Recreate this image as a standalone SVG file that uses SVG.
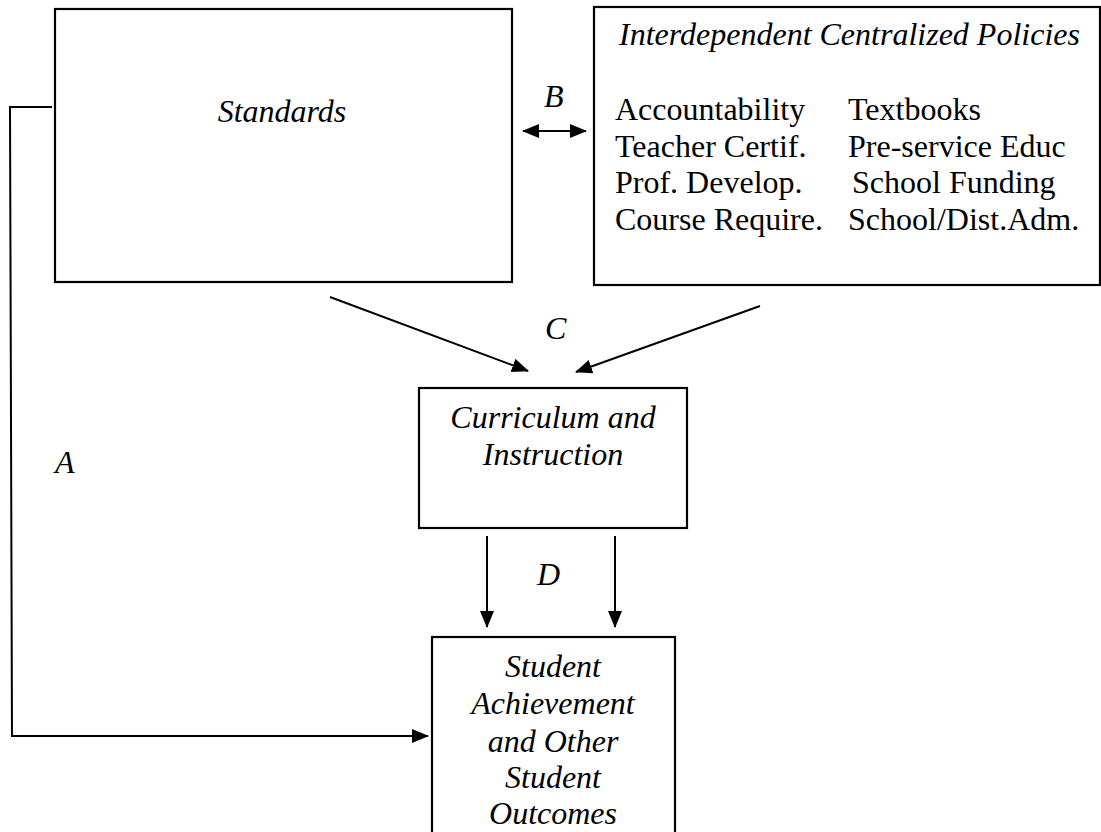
<svg xmlns="http://www.w3.org/2000/svg" width="1101" height="832" viewBox="0 0 1101 832">
<style>
.box{fill:#fff;stroke:#000;stroke-width:2.2}
.ln{fill:none;stroke:#000;stroke-width:2}
.t{font-family:"Liberation Serif","Times New Roman",serif;font-size:32px;fill:#000}
.i{font-style:italic}
.c{text-anchor:middle}
</style>
<defs>
<marker id="ah" markerUnits="userSpaceOnUse" markerWidth="18" markerHeight="14" refX="16" refY="7" orient="auto-start-reverse" viewBox="0 0 18 14">
<path d="M0,0 L17,7 L0,14 z" fill="#000"/>
</marker>
</defs>
<rect width="1101" height="832" fill="#fff"/>
<g id="standards">
<rect class="box" x="55" y="9" width="457" height="273"/>
<text class="t i c" x="282" y="122">Standards</text>
</g>
<g id="policies">
<rect class="box" x="594" y="7" width="506" height="278"/>
<text class="t i" x="619" y="45">Interdependent Centralized Policies</text>
<text class="t" x="615" y="120">Accountability</text>
<text class="t" x="848" y="120">Textbooks</text>
<text class="t" x="615" y="157">Teacher Certif.</text>
<text class="t" x="848" y="157">Pre-service Educ</text>
<text class="t" x="615" y="193">Prof. Develop.</text>
<text class="t" x="852" y="193">School Funding</text>
<text class="t" x="615" y="230">Course Require.</text>
<text class="t" x="848" y="230">School/Dist.Adm.</text>
</g>
<g id="curriculum">
<rect class="box" x="419" y="388" width="268" height="140"/>
<text class="t i c" x="553" y="428">Curriculum and</text>
<text class="t i c" x="553" y="465">Instruction</text>
</g>
<g id="outcomes">
<rect class="box" x="432" y="637" width="243" height="210"/>
<text class="t i c" x="553" y="677">Student</text>
<text class="t i c" x="553" y="714">Achievement</text>
<text class="t i c" x="553" y="752">and Other</text>
<text class="t i c" x="553" y="788">Student</text>
<text class="t i c" x="553" y="824">Outcomes</text>
</g>
<g id="connectors">
<path class="ln" d="M52,107 L10,107 L12,736 L428,736" marker-end="url(#ah)"/>
<line class="ln" x1="523" y1="131" x2="586" y2="131" marker-start="url(#ah)" marker-end="url(#ah)"/>
<line class="ln" x1="330" y1="297" x2="528" y2="371" marker-end="url(#ah)"/>
<line class="ln" x1="760" y1="306" x2="576" y2="372" marker-end="url(#ah)"/>
<line class="ln" x1="487" y1="536" x2="487" y2="627" marker-end="url(#ah)"/>
<line class="ln" x1="615" y1="536" x2="615" y2="627" marker-end="url(#ah)"/>
</g>
<g id="labels">
<text class="t i" x="544" y="107">B</text>
<text class="t i" x="545" y="339">C</text>
<text class="t i" x="537" y="585">D</text>
<text class="t i" x="55" y="473">A</text>
</g>
</svg>
